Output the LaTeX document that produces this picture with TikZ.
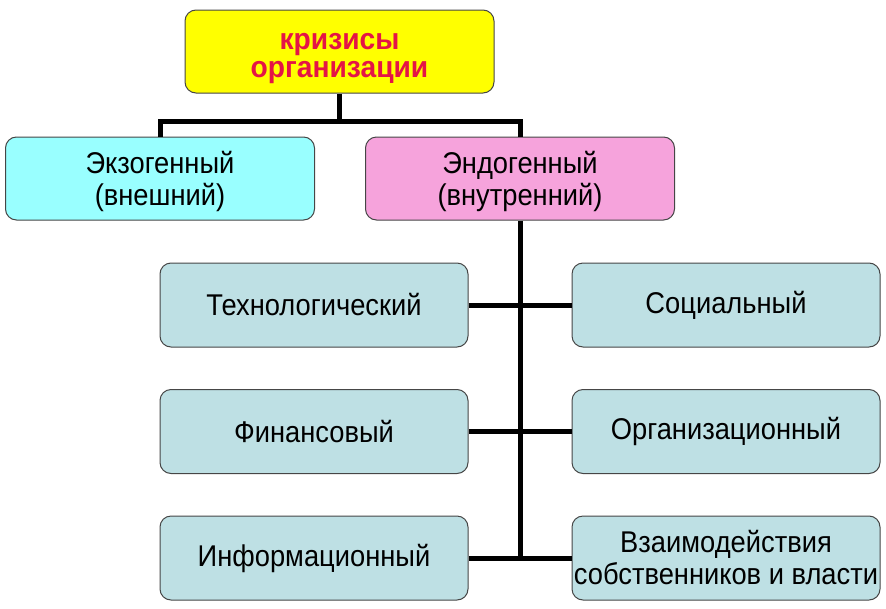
\documentclass[tikz,border=0pt]{standalone}
\usepackage{fontspec}
\setmainfont{Liberation Sans}[FakeStretch=0.91]
\newfontfamily\topfont{Liberation Sans}[FakeStretch=0.94]
\definecolor{topyellow}{RGB}{255,255,0}
\definecolor{topred}{RGB}{228,20,70}
\definecolor{exocyan}{RGB}{153,255,255}
\definecolor{endopink}{RGB}{246,163,220}
\definecolor{subteal}{RGB}{190,224,228}
\definecolor{edgegray}{RGB}{70,70,70}
\begin{document}
\begin{tikzpicture}[x=1pt,y=-1pt,
  box/.style={draw=edgegray, line width=1pt, rounded corners=11pt, align=center,
    minimum width=309pt, minimum height=83pt, inner sep=0pt,
    font=\fontsize{30}{32}\selectfont},
  topbox/.style={box, fill=topyellow},
  toptext/.style={align=center, inner sep=0pt, text=topred, font=\topfont\fontsize{30}{28}\selectfont\bfseries},
  midtext/.style={align=center, inner sep=0pt, font=\fontsize{30}{32}\selectfont},
  exobox/.style={box, fill=exocyan},
  endobox/.style={box, fill=endopink},
  subbox/.style={box, fill=subteal, minimum width=308pt, minimum height=84pt},
  conn/.style={line width=5pt, black, line join=miter}]
\useasboundingbox (0,0) rectangle (886,608);
\node[topbox] (top) at (339.5,51.5) {};
\node[toptext] (topt) at ([yshift=-7pt]top.center) {кризисы\\организации};
\node[exobox] (exo) at (160,178.5) {};
\node[midtext] (exot) at ([yshift=-3pt]exo.center) {Экзогенный\\(внешний)};
\node[endobox] (endo) at (520,178.5) {};
\node[midtext] (endot) at ([yshift=-3pt]endo.center) {Эндогенный\\(внутренний)};
\node[subbox] (l1) at (314,305) {Технологический};
\node[subbox] (l2) at (314,431.5) {Финансовый};
\node[subbox] (l3) at (314,558) {Информационный};
\node[subbox] (r1) at (726,305) {Социальный};
\node[subbox] (r2) at (726,431.5) {Организационный};
\node[subbox] (r3) at (726,558) {Взаимодействия\\собственников и власти};
\coordinate (j) at (339.5,121);
\coordinate (b) at (520,558);
\draw[conn] (top.south) -- (j);
\draw[conn] (exo.north) -- (exo.north |- j) -- (endo.north |- j) -- (endo.north);
\draw[conn] (endo.south) -- ([yshift=2.5pt]b);
\draw[conn] (l1.east) -- (r1.west);
\draw[conn] (l2.east) -- (r2.west);
\draw[conn] (l3.east) -- (r3.west);
\end{tikzpicture}
\end{document}
